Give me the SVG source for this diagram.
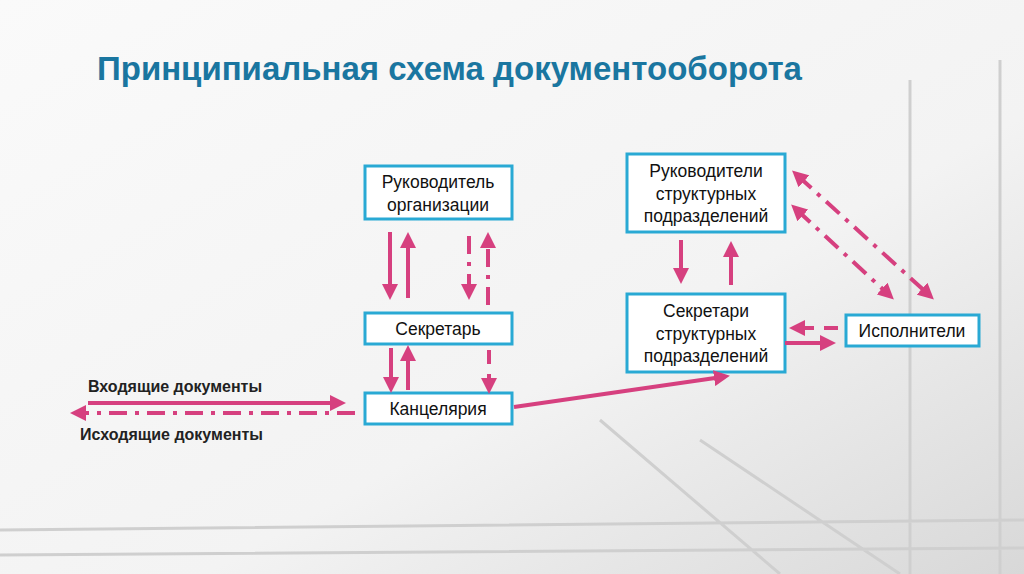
<svg xmlns="http://www.w3.org/2000/svg" width="1024" height="574" viewBox="0 0 1024 574">
<defs>
<style>
.box{fill:#fff;stroke:#29a9d4;stroke-width:3}
.t{font-family:"Liberation Sans",Arial,sans-serif;font-size:17.5px;fill:#111;text-anchor:middle}
.l{font-family:"Liberation Sans",Arial,sans-serif;font-size:16px;font-weight:bold;fill:#222}
.c{stroke:#d6407f;stroke-width:4;fill:none}
.dd{stroke-dasharray:18 8 4 8}
.d{stroke-dasharray:14 10}
</style>
<marker id="a" markerWidth="4" markerHeight="4" refX="2" refY="2" orient="auto-start-reverse" markerUnits="strokeWidth"><path d="M0,0L4,2L0,4z" fill="#d6407f"/></marker>
<linearGradient id="bg" x1="0" y1="0" x2="1" y2="1"><stop offset="0" stop-color="#fafafa"/><stop offset="0.6" stop-color="#f3f3f3"/><stop offset="1" stop-color="#d8d8d8"/></linearGradient>
</defs>
<rect width="1024" height="574" fill="url(#bg)"/>
<g stroke="#cfcfcf" stroke-width="3" fill="none">
<path d="M910 80L910 574M1000 60L1000 574M0 530L1024 520M0 555L1024 548M600 420L780 574M700 440L900 574"/>
</g>
<text x="97" y="80" font-family="Liberation Sans,Arial,sans-serif" font-size="33" font-weight="bold" fill="#1a76a0">Принципиальная схема документооборота</text>
<g id="n1"><rect class="box" x="365" y="166" width="147" height="53"/><text class="t" x="438" y="188">Руководитель</text><text class="t" x="438" y="211">организации</text></g>
<g id="n2"><rect class="box" x="365" y="313" width="147" height="31"/><text class="t" x="438" y="335">Секретарь</text></g>
<g id="n3"><rect class="box" x="365" y="393" width="147" height="31"/><text class="t" x="438" y="415">Канцелярия</text></g>
<g id="n4"><rect class="box" x="627" y="154" width="158" height="78"/><text class="t" x="706" y="177">Руководители</text><text class="t" x="706" y="200">структурных</text><text class="t" x="706" y="222">подразделений</text></g>
<g id="n5"><rect class="box" x="627" y="294" width="158" height="78"/><text class="t" x="706" y="317">Секретари</text><text class="t" x="706" y="340">структурных</text><text class="t" x="706" y="362">подразделений</text></g>
<g id="n6"><rect class="box" x="846" y="315" width="133" height="31"/><text class="t" x="912" y="337">Исполнители</text></g>
<text class="l" x="88" y="392">Входящие документы</text>
<text class="l" x="80" y="440">Исходящие документы</text>
<g id="connectors">
<path class="c" d="M390 232V292" marker-end="url(#a)"/>
<path class="c" d="M408 298V240" marker-end="url(#a)"/>
<path class="c dd" d="M469 236V292" marker-end="url(#a)"/>
<path class="c dd" d="M488 305V240" marker-end="url(#a)"/>
<path class="c" d="M391 348V385" marker-end="url(#a)"/>
<path class="c" d="M408 390V353" marker-end="url(#a)"/>
<path class="c d" d="M489 350V386" marker-end="url(#a)"/>
<path class="c" d="M88 403H338" marker-end="url(#a)"/>
<path class="c dd" d="M355 413H78" marker-end="url(#a)"/>
<path class="c" d="M514 407L722 377" marker-end="url(#a)"/>
<path class="c" d="M681 240V276" marker-end="url(#a)"/>
<path class="c" d="M731 285V249" marker-end="url(#a)"/>
<path class="c d" d="M838 328H797" marker-end="url(#a)"/>
<path class="c" d="M785 343H828" marker-end="url(#a)"/>
<path class="c dd" d="M798 176L928 294" marker-start="url(#a)" marker-end="url(#a)"/>
<path class="c dd" d="M797 210L888 294" marker-start="url(#a)" marker-end="url(#a)"/>
</g>
</svg>
